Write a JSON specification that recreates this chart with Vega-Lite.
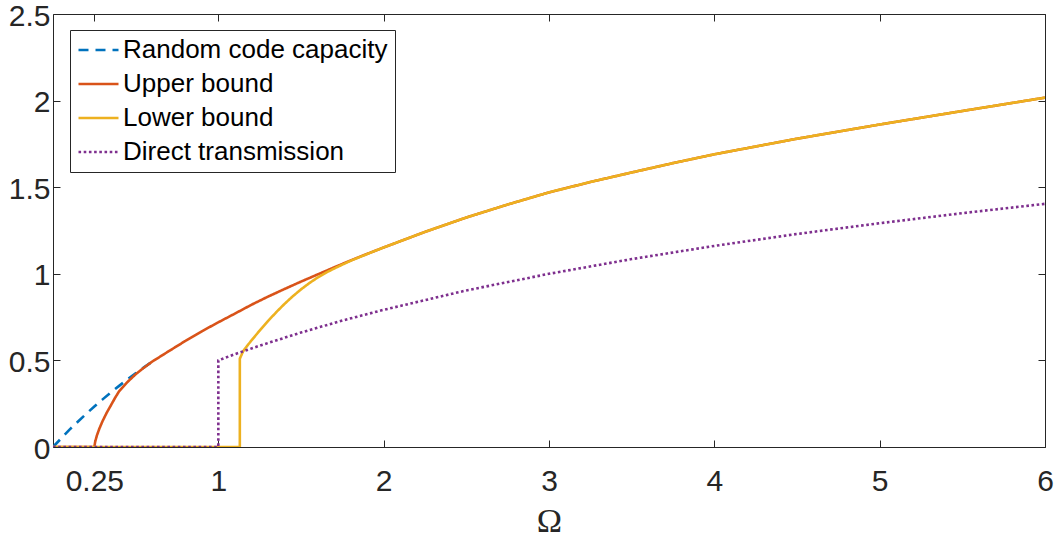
{
  "$schema": "https://vega.github.io/schema/vega-lite/v6.json",
  "width": 992,
  "height": 433,
  "autosize": {"type": "none"},
  "padding": {"left": 53, "top": 14, "right": 13, "bottom": 90},
  "background": "white",
  "config": {"view": {"stroke": null}},
  "datasets": {
    "curves": [
      {"s": "Random code capacity", "i": 0, "x": 0, "y": 0},
      {"s": "Random code capacity", "i": 1, "x": 0.05, "y": 0.05},
      {"s": "Random code capacity", "i": 2, "x": 0.1, "y": 0.1},
      {"s": "Random code capacity", "i": 3, "x": 0.15, "y": 0.146},
      {"s": "Random code capacity", "i": 4, "x": 0.2, "y": 0.191},
      {"s": "Random code capacity", "i": 5, "x": 0.25, "y": 0.234},
      {"s": "Random code capacity", "i": 6, "x": 0.3, "y": 0.275},
      {"s": "Random code capacity", "i": 7, "x": 0.35, "y": 0.315},
      {"s": "Random code capacity", "i": 8, "x": 0.4, "y": 0.353},
      {"s": "Random code capacity", "i": 9, "x": 0.45, "y": 0.39},
      {"s": "Random code capacity", "i": 10, "x": 0.5, "y": 0.425},
      {"s": "Random code capacity", "i": 11, "x": 0.55, "y": 0.46},
      {"s": "Random code capacity", "i": 12, "x": 0.6, "y": 0.493},

      {"s": "Upper bound", "i": 0, "x": 0, "y": 0},
      {"s": "Upper bound", "i": 1, "x": 0.25, "y": 0},
      {"s": "Upper bound", "i": 2, "x": 0.255, "y": 0.03},
      {"s": "Upper bound", "i": 3, "x": 0.265, "y": 0.065},
      {"s": "Upper bound", "i": 4, "x": 0.28, "y": 0.105},
      {"s": "Upper bound", "i": 5, "x": 0.3, "y": 0.15},
      {"s": "Upper bound", "i": 6, "x": 0.325, "y": 0.198},
      {"s": "Upper bound", "i": 7, "x": 0.35, "y": 0.24},
      {"s": "Upper bound", "i": 8, "x": 0.375, "y": 0.283},
      {"s": "Upper bound", "i": 9, "x": 0.4, "y": 0.322},
      {"s": "Upper bound", "i": 10, "x": 0.45, "y": 0.375},
      {"s": "Upper bound", "i": 11, "x": 0.5, "y": 0.42},
      {"s": "Upper bound", "i": 12, "x": 0.55, "y": 0.458},
      {"s": "Upper bound", "i": 13, "x": 0.6, "y": 0.493},
      {"s": "Upper bound", "i": 14, "x": 0.7, "y": 0.553},
      {"s": "Upper bound", "i": 15, "x": 0.8, "y": 0.612},
      {"s": "Upper bound", "i": 16, "x": 0.9, "y": 0.668},
      {"s": "Upper bound", "i": 17, "x": 1.0, "y": 0.72},
      {"s": "Upper bound", "i": 18, "x": 1.1, "y": 0.77},
      {"s": "Upper bound", "i": 19, "x": 1.2, "y": 0.821},
      {"s": "Upper bound", "i": 20, "x": 1.3, "y": 0.868},
      {"s": "Upper bound", "i": 21, "x": 1.4, "y": 0.912},
      {"s": "Upper bound", "i": 22, "x": 1.5, "y": 0.955},
      {"s": "Upper bound", "i": 23, "x": 1.6, "y": 0.996},
      {"s": "Upper bound", "i": 24, "x": 1.7, "y": 1.037},
      {"s": "Upper bound", "i": 25, "x": 1.8, "y": 1.077},
      {"s": "Upper bound", "i": 26, "x": 1.9, "y": 1.115},
      {"s": "Upper bound", "i": 27, "x": 2.0, "y": 1.152},
      {"s": "Upper bound", "i": 28, "x": 2.25, "y": 1.242},
      {"s": "Upper bound", "i": 29, "x": 2.5, "y": 1.325},
      {"s": "Upper bound", "i": 30, "x": 2.75, "y": 1.4},
      {"s": "Upper bound", "i": 31, "x": 3.0, "y": 1.47},
      {"s": "Upper bound", "i": 32, "x": 3.25, "y": 1.53},
      {"s": "Upper bound", "i": 33, "x": 3.5, "y": 1.585},
      {"s": "Upper bound", "i": 34, "x": 3.75, "y": 1.639},
      {"s": "Upper bound", "i": 35, "x": 4.0, "y": 1.69},
      {"s": "Upper bound", "i": 36, "x": 4.5, "y": 1.78},
      {"s": "Upper bound", "i": 37, "x": 5.0, "y": 1.862},
      {"s": "Upper bound", "i": 38, "x": 5.5, "y": 1.94},
      {"s": "Upper bound", "i": 39, "x": 6.0, "y": 2.017},

      {"s": "Lower bound", "i": 0, "x": 0, "y": 0},
      {"s": "Lower bound", "i": 1, "x": 1.13, "y": 0},
      {"s": "Lower bound", "i": 2, "x": 1.13, "y": 0.51},
      {"s": "Lower bound", "i": 3, "x": 1.15, "y": 0.553},
      {"s": "Lower bound", "i": 4, "x": 1.175, "y": 0.585},
      {"s": "Lower bound", "i": 5, "x": 1.2, "y": 0.615},
      {"s": "Lower bound", "i": 6, "x": 1.25, "y": 0.672},
      {"s": "Lower bound", "i": 7, "x": 1.3, "y": 0.727},
      {"s": "Lower bound", "i": 8, "x": 1.35, "y": 0.778},
      {"s": "Lower bound", "i": 9, "x": 1.4, "y": 0.826},
      {"s": "Lower bound", "i": 10, "x": 1.45, "y": 0.87},
      {"s": "Lower bound", "i": 11, "x": 1.5, "y": 0.91},
      {"s": "Lower bound", "i": 12, "x": 1.55, "y": 0.946},
      {"s": "Lower bound", "i": 13, "x": 1.6, "y": 0.978},
      {"s": "Lower bound", "i": 14, "x": 1.65, "y": 1.006},
      {"s": "Lower bound", "i": 15, "x": 1.7, "y": 1.03},
      {"s": "Lower bound", "i": 16, "x": 1.75, "y": 1.053},
      {"s": "Lower bound", "i": 17, "x": 1.8, "y": 1.075},
      {"s": "Lower bound", "i": 18, "x": 1.9, "y": 1.114},
      {"s": "Lower bound", "i": 19, "x": 2.0, "y": 1.152},
      {"s": "Lower bound", "i": 20, "x": 2.25, "y": 1.242},
      {"s": "Lower bound", "i": 21, "x": 2.5, "y": 1.325},
      {"s": "Lower bound", "i": 22, "x": 2.75, "y": 1.4},
      {"s": "Lower bound", "i": 23, "x": 3.0, "y": 1.47},
      {"s": "Lower bound", "i": 24, "x": 3.25, "y": 1.53},
      {"s": "Lower bound", "i": 25, "x": 3.5, "y": 1.585},
      {"s": "Lower bound", "i": 26, "x": 3.75, "y": 1.639},
      {"s": "Lower bound", "i": 27, "x": 4.0, "y": 1.69},
      {"s": "Lower bound", "i": 28, "x": 4.5, "y": 1.78},
      {"s": "Lower bound", "i": 29, "x": 5.0, "y": 1.862},
      {"s": "Lower bound", "i": 30, "x": 5.5, "y": 1.94},
      {"s": "Lower bound", "i": 31, "x": 6.0, "y": 2.017},

      {"s": "Direct transmission", "i": 0, "x": 0, "y": 0},
      {"s": "Direct transmission", "i": 1, "x": 1.0, "y": 0},
      {"s": "Direct transmission", "i": 2, "x": 1.0, "y": 0.5},
      {"s": "Direct transmission", "i": 3, "x": 1.1, "y": 0.536},
      {"s": "Direct transmission", "i": 4, "x": 1.25, "y": 0.585},
      {"s": "Direct transmission", "i": 5, "x": 1.5, "y": 0.661},
      {"s": "Direct transmission", "i": 6, "x": 1.75, "y": 0.73},
      {"s": "Direct transmission", "i": 7, "x": 2.0, "y": 0.792},
      {"s": "Direct transmission", "i": 8, "x": 2.5, "y": 0.904},
      {"s": "Direct transmission", "i": 9, "x": 3.0, "y": 1.0},
      {"s": "Direct transmission", "i": 10, "x": 3.5, "y": 1.085},
      {"s": "Direct transmission", "i": 11, "x": 4.0, "y": 1.161},
      {"s": "Direct transmission", "i": 12, "x": 4.5, "y": 1.23},
      {"s": "Direct transmission", "i": 13, "x": 5.0, "y": 1.292},
      {"s": "Direct transmission", "i": 14, "x": 5.5, "y": 1.35},
      {"s": "Direct transmission", "i": 15, "x": 6.0, "y": 1.404}
    ],
    "anchor": [{"x": 0, "y": 0}]
  },
  "layer": [
    {
      "data": {"name": "curves"},
      "mark": {"type": "line", "strokeWidth": 2.6, "strokeCap": "butt", "clip": true},
      "encoding": {
        "x": {
          "field": "x", "type": "quantitative",
          "scale": {"domain": [0, 6], "nice": false, "zero": false},
          "axis": {
            "orient": "bottom", "values": [0.25, 1, 2, 3, 4, 5, 6], "labelExpr": "'' + datum.value",
            "grid": false, "domain": true, "domainColor": "#262626", "domainWidth": 1,
            "ticks": true, "tickSize": -7, "tickColor": "#262626", "tickWidth": 1,
            "labelPadding": 26, "labelFont": "Liberation Sans", "labelFontSize": 30, "labelColor": "#262626",
            "labelFlush": false, "labelOverlap": false,
            "title": "Ω", "titleFont": "Liberation Serif", "titleFontSize": 34, "titleFontWeight": "normal",
            "titleColor": "#262626", "titlePadding": 8
          }
        },
        "y": {
          "field": "y", "type": "quantitative",
          "scale": {"domain": [0, 2.5], "nice": false, "zero": false},
          "axis": {
            "orient": "left", "values": [0, 0.5, 1, 1.5, 2, 2.5], "labelExpr": "'' + datum.value",
            "grid": false, "domain": true, "domainColor": "#262626", "domainWidth": 1,
            "ticks": true, "tickSize": -7, "tickColor": "#262626", "tickWidth": 1,
            "labelPadding": 10, "labelOffset": 2, "labelFont": "Liberation Sans", "labelFontSize": 30, "labelColor": "#262626",
            "labelFlush": false, "labelOverlap": false, "title": null
          }
        },
        "order": {"field": "i", "type": "quantitative"},
        "color": {
          "field": "s", "type": "nominal",
          "scale": {
            "domain": ["Random code capacity", "Upper bound", "Lower bound", "Direct transmission"],
            "range": ["#0072BD", "#D95319", "#EDB120", "#7E2F8E"]
          },
          "legend": {
            "orient": "none", "legendX": 17, "legendY": 16, "title": null,
            "labelFont": "Liberation Sans", "labelFontSize": 26, "labelColor": "#000000", "labelLimit": 500,
            "symbolType": "stroke", "symbolSize": 1600, "symbolStrokeWidth": 2.6,
            "labelOffset": 3, "padding": 7, "rowPadding": 8, "clipHeight": 26,
            "strokeColor": "#262626", "fillColor": "white"
          }
        },
        "strokeDash": {
          "field": "s", "type": "nominal",
          "scale": {
            "domain": ["Random code capacity", "Upper bound", "Lower bound", "Direct transmission"],
            "range": [[10, 7], [1, 0], [1, 0], [2.6, 2.6]]
          },
          "legend": {
            "orient": "none", "legendX": 17, "legendY": 16, "title": null,
            "labelFont": "Liberation Sans", "labelFontSize": 26, "labelColor": "#000000", "labelLimit": 500,
            "symbolType": "stroke", "symbolSize": 1600, "symbolStrokeWidth": 2.6,
            "labelOffset": 3, "padding": 7, "rowPadding": 8, "clipHeight": 26,
            "strokeColor": "#262626", "fillColor": "white"
          }
        }
      }
    },
    {
      "data": {"name": "anchor"},
      "mark": {"type": "point", "opacity": 0},
      "encoding": {
        "x": {
          "field": "x", "type": "quantitative",
          "scale": {"domain": [0, 6], "nice": false, "zero": false},
          "axis": {
            "orient": "top", "values": [0.25, 1, 2, 3, 4, 5, 6], "labels": false,
            "grid": false, "domain": true, "domainColor": "#262626", "domainWidth": 1,
            "ticks": true, "tickSize": -7, "tickColor": "#262626", "tickWidth": 1, "title": null
          }
        },
        "y": {
          "field": "y", "type": "quantitative",
          "scale": {"domain": [0, 2.5], "nice": false, "zero": false},
          "axis": {
            "orient": "right", "values": [0, 0.5, 1, 1.5, 2, 2.5], "labels": false,
            "grid": false, "domain": true, "domainColor": "#262626", "domainWidth": 1,
            "ticks": true, "tickSize": -7, "tickColor": "#262626", "tickWidth": 1, "title": null
          }
        }
      }
    }
  ],
  "resolve": {"axis": {"x": "independent", "y": "independent"}}
}
